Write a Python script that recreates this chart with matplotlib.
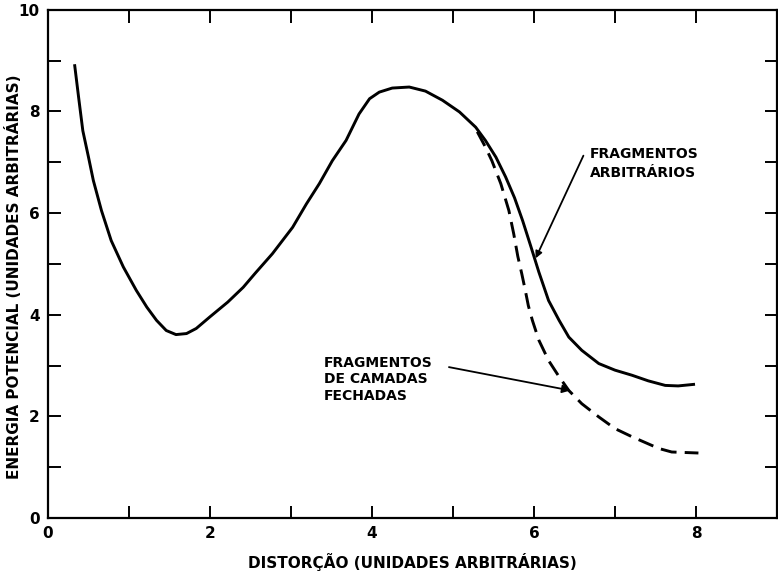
import matplotlib.pyplot as plt
from matplotlib.ticker import MultipleLocator, FuncFormatter

# curva de energia potencial - fragmentos arbitrarios (linha cheia)
dist_arb = [0.33, 0.38, 0.43, 0.50, 0.56, 0.66, 0.78, 0.93, 1.09, 1.22, 1.34,
            1.46, 1.58, 1.71, 1.83, 2.00, 2.22, 2.41, 2.56, 2.77, 3.02, 3.19,
            3.35, 3.51, 3.68, 3.76, 3.84, 3.97, 4.09, 4.25, 4.46, 4.66, 4.87,
            5.08, 5.28, 5.40, 5.53, 5.65, 5.76, 5.86, 5.96, 6.06, 6.18, 6.31,
            6.43, 6.59, 6.80, 7.00, 7.21, 7.41, 7.62, 7.78, 7.97]
energ_arb = [8.90, 8.25, 7.62, 7.10, 6.64, 6.05, 5.46, 4.94, 4.48, 4.15, 3.89,
             3.69, 3.61, 3.63, 3.73, 3.96, 4.25, 4.54, 4.82, 5.20, 5.72, 6.18,
             6.58, 7.03, 7.43, 7.69, 7.95, 8.25, 8.38, 8.46, 8.48, 8.40, 8.22,
             7.99, 7.69, 7.43, 7.10, 6.71, 6.30, 5.85, 5.35, 4.84, 4.28, 3.89,
             3.56, 3.30, 3.04, 2.91, 2.81, 2.70, 2.61, 2.60, 2.63]

# fragmentos de camadas fechadas (tracejada, sai da curva cheia)
dist_cam = [5.30, 5.40, 5.48, 5.59, 5.69, 5.75, 5.80, 5.85, 5.89, 5.93, 5.98,
            6.06, 6.18, 6.31, 6.43, 6.59, 6.80, 7.00, 7.21, 7.54, 7.70, 8.03]
energ_cam = [7.60, 7.30, 7.03, 6.58, 6.05, 5.59, 5.15, 4.80, 4.50, 4.18, 3.89,
             3.50, 3.10, 2.78, 2.51, 2.25, 1.99, 1.76, 1.60, 1.37, 1.30, 1.28]

xlabel = "DISTORÇÃO (UNIDADES ARBITRÁRIAS)"
ylabel = "ENERGIA POTENCIAL (UNIDADES ARBITRÁRIAS)"

fig = plt.figure(figsize=(7.78, 5.75), dpi=100)
ax = fig.add_axes([0.0617, 0.099, 0.937, 0.884])

ax.plot(dist_arb, energ_arb, color="black", lw=2.1, solid_joinstyle="round")
ax.plot(dist_cam, energ_cam, color="black", lw=2.1, linestyle=(0, (5.5, 2.8)))

ax.set_xlim(0, 9)
ax.set_ylim(0, 10)

# ticks em todas as unidades, rotulos so nos pares
for axis in (ax.xaxis, ax.yaxis):
    axis.set_major_locator(MultipleLocator(2))
    axis.set_minor_locator(MultipleLocator(1))
    axis.set_major_formatter(FuncFormatter(lambda v, p: f"{v:g}"))
ax.tick_params(which="both", direction="in", length=9, width=1.4,
               top=True, right=True)
ax.tick_params(which="major", labelsize=11, pad=6)
for lab in ax.get_xticklabels() + ax.get_yticklabels():
    lab.set_fontweight("bold")

for sp in ax.spines.values():
    sp.set_linewidth(1.6)

ax.set_xlabel(xlabel, fontsize=11, fontweight="bold", labelpad=8)
ax.set_ylabel(ylabel, fontsize=11, fontweight="bold")
ax.yaxis.set_label_coords(-0.035, 0.474)

# anotacoes
ax.text(6.69, 6.97, "FRAGMENTOS\nARBITRÁRIOS", fontsize=10, fontweight="bold",
        ha="left", va="center", linespacing=1.45)
ax.annotate("", xy=(6.02, 5.11), xytext=(6.61, 7.13),
            arrowprops=dict(arrowstyle="-|>", lw=1.3, color="black",
                            mutation_scale=10, shrinkA=0, shrinkB=0))

ax.text(3.41, 2.73, "FRAGMENTOS\nDE CAMADAS\nFECHADAS", fontsize=10,
        fontweight="bold", ha="left", va="center", linespacing=1.2)
ax.annotate("", xy=(6.45, 2.51), xytext=(4.95, 2.97),
            arrowprops=dict(arrowstyle="-|>", lw=1.3, color="black",
                            mutation_scale=12, shrinkA=0, shrinkB=0))

fig.savefig("out.png", dpi=100)
